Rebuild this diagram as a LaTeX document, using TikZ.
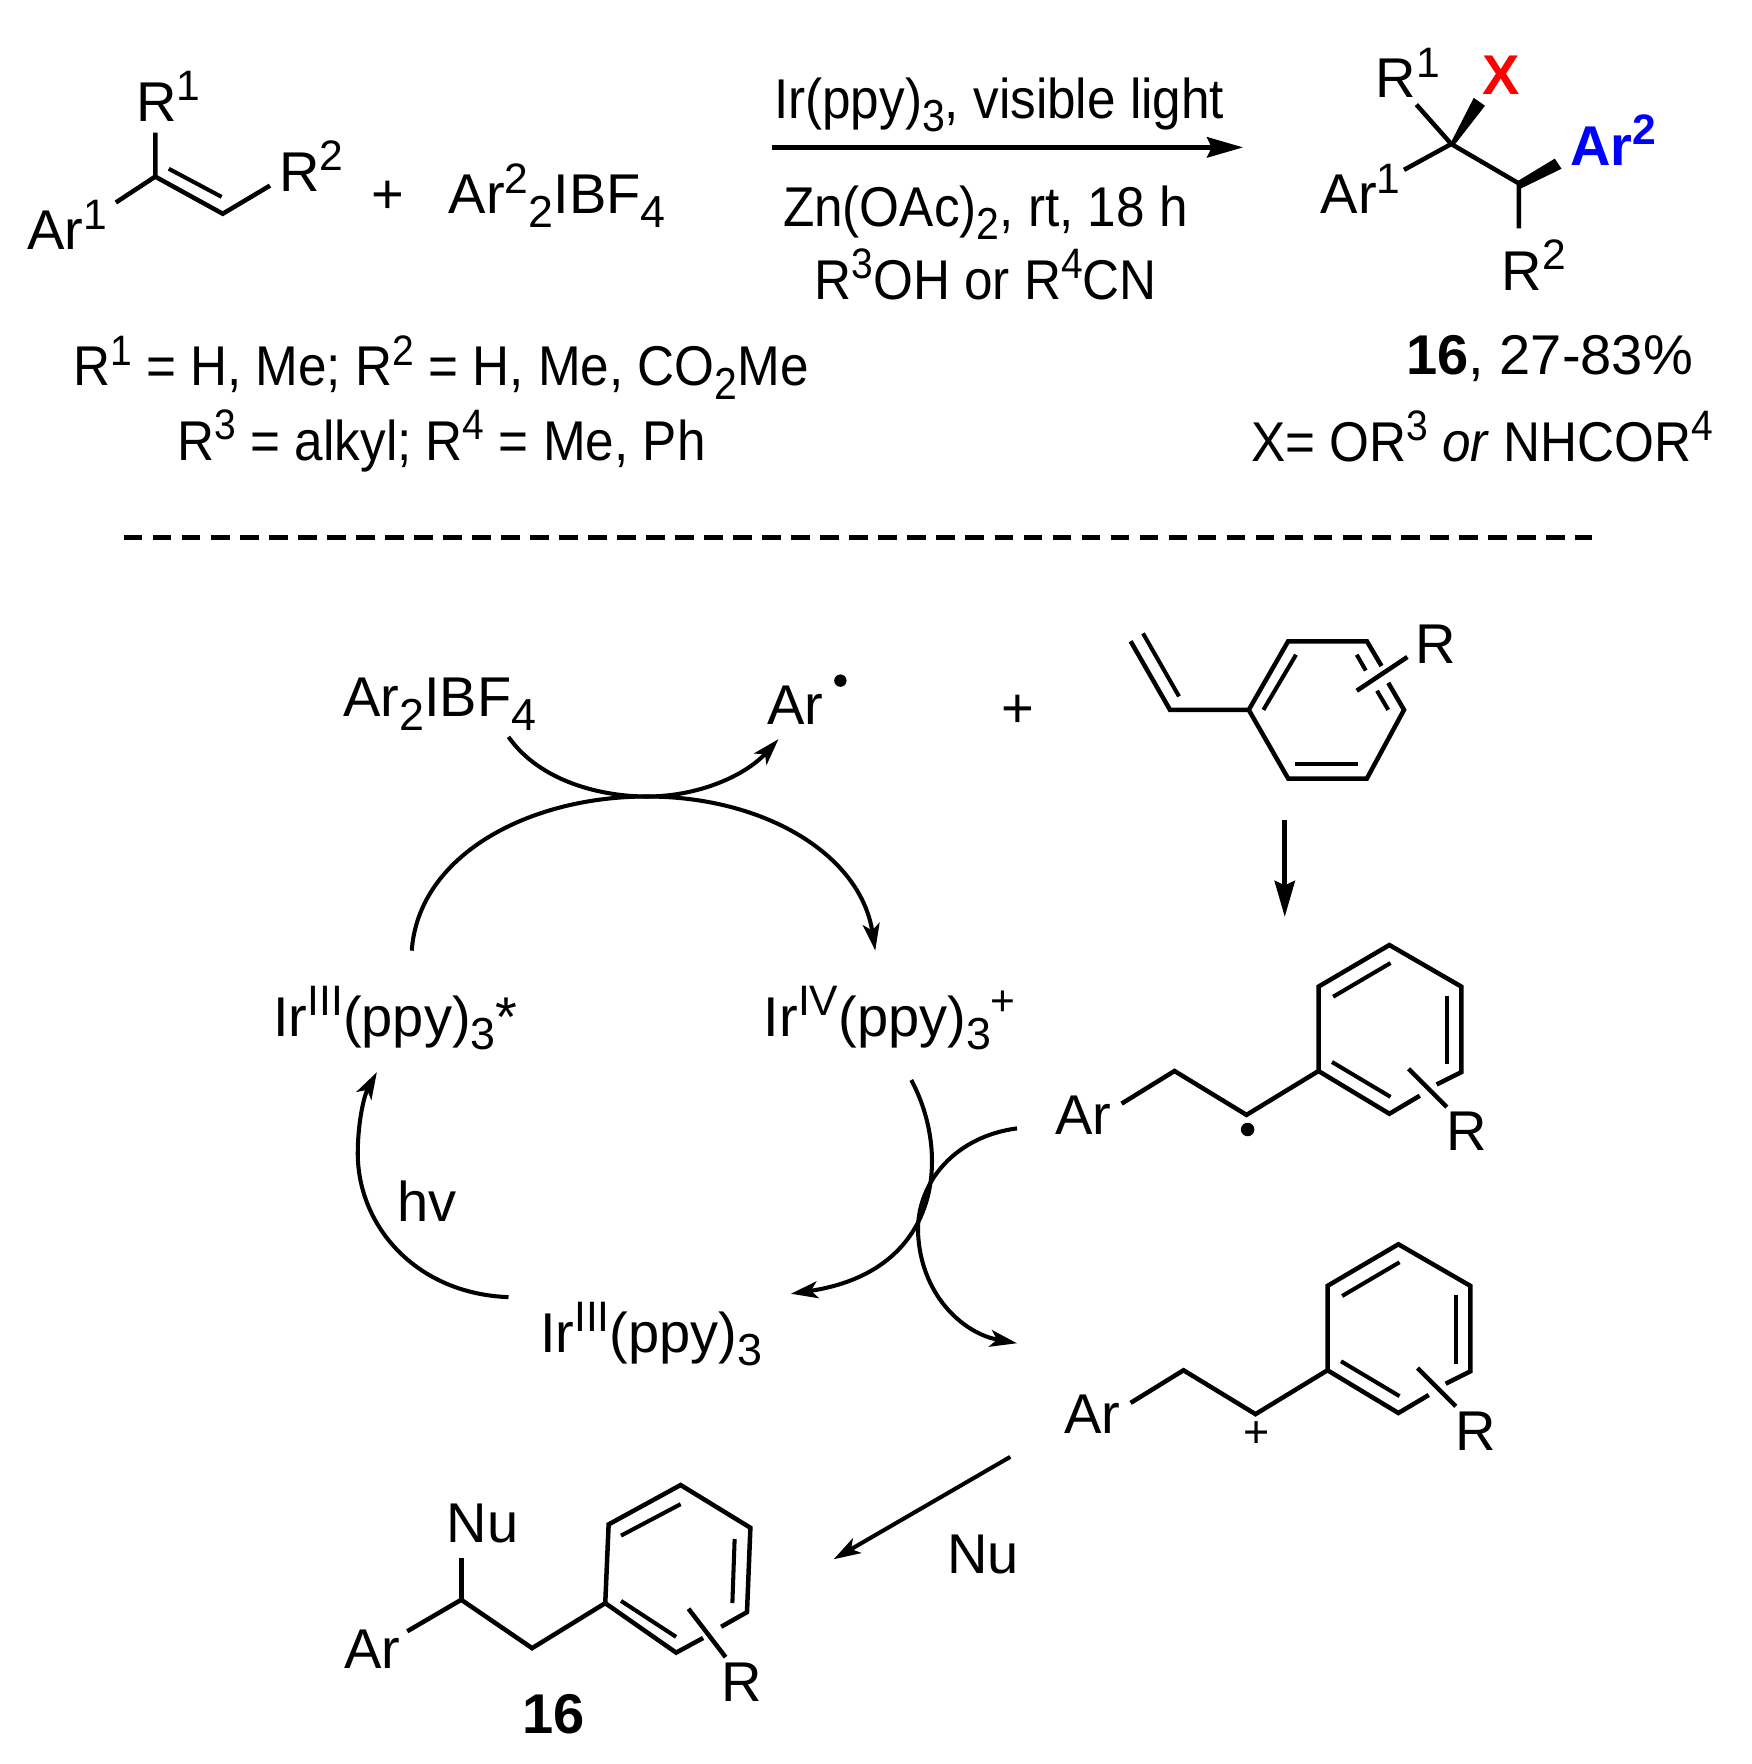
\documentclass[tikz,border=0pt]{standalone}
\usepackage{fontspec}
\setmainfont{Liberation Sans}
\usetikzlibrary{arrows.meta}
\newcommand\ssup[1]{\raisebox{.37em}{\fontsize{38}{38}\selectfont #1}}
\newcommand\ssub[1]{\raisebox{-.24em}{\fontsize{40}{40}\selectfont #1}}
\newcommand\nar[1]{\scalebox{.915}[1]{#1}}
\tikzset{
 lab/.style={inner sep=0pt,outer sep=0pt,anchor=base west,font=\fontsize{50}{60}\selectfont},
 bond/.style={line width=4bp,line cap=butt,line join=miter},
 dbl/.style={line width=3.6bp},
 rxn/.style={line width=4.2bp,-{Stealth[length=32bp,width=18bp,inset=4bp]}},
 curve/.style={line width=3.6bp,-{Stealth[length=24bp,width=15bp,inset=6bp]}},
 seq/.style={line width=4.2bp,dash pattern=on 16.6bp off 9.2bp},
}
\begin{document}
\begin{tikzpicture}[x=1bp,y=-1bp]
\useasboundingbox (0,0) rectangle (1557,1568);
% top left substrate
\node[lab] (r1a) at (121,108) {R\ssup{1}};
\node[lab] (ar1a) at (24,222) {Ar\ssup{1}};
\node[lab] (r2a) at (248,170) {R\ssup{2}};
\node[lab] (plusa) at (330,190) {+};
\node[lab] (ar2i) at (399,190) {Ar\ssup{2}\ssub{2}IBF\ssub{4}};
\draw[bond] (138,118)--(138,157)--(198,190)--(240,165);
\draw[bond] (103,180)--(138,157);
\draw[dbl] (150,150)--(197,175);
% reaction arrow
\coordinate (rs) at (686,131); \coordinate (re) at (1105,131);
\draw[rxn] (rs)--(re);
\node[lab] (c1) at (688,105) {\nar{Ir(ppy)\ssub{3}, visible light}};
\node[lab] (c2) at (696,201) {\nar{Zn(OAc)\ssub{2}, rt, 18 h}};
\node[lab] (c3) at (724,266) {\nar{R\ssup{3}OH or R\ssup{4}CN}};
\node[lab] (d1) at (65,343) {\nar{R\ssup{1} = H, Me; R\ssup{2} = H, Me, CO\ssub{2}Me}};
\node[lab] (d2) at (158,409) {\nar{R\ssup{3} = alkyl; R\ssup{4} = Me, Ph}};
% product
\node[lab] (pr1) at (1223,87) {R\ssup{1}};
\node[lab,text=red,font=\fontsize{50}{60}\selectfont\bfseries] (px) at (1318,84) {X};
\node[lab] (par1) at (1174,190) {Ar\ssup{1}};
\node[lab,text=blue,font=\fontsize{50}{60}\selectfont\bfseries] (par2) at (1396,147) {Ar\ssup{2}};
\node[lab] (pr2) at (1335,258) {R\ssup{2}};
\draw[bond] (1259,93)--(1290,128)--(1350,163)--(1350,203);
\draw[bond] (1248,151)--(1290,128);
\fill (1289,128)--(1310,87)--(1320,94)--(1292,130)--cycle;
\fill (1349,161)--(1382,141)--(1388,150)--(1351,168)--cycle;
\node[lab] (p16) at (1250,333) {\textbf{16}, 27-83\%};
\node[lab] (px2) at (1112,410) {\nar{X= OR\ssup{3} \textit{or} NHCOR\ssup{4}}};
% separator
\coordinate (sl) at (110,478); \coordinate (sr) at (1415,478);
\draw[seq] (sl)--(sr);
% mechanism labels
\node[lab] (ari) at (305,637) {Ar\ssub{2}IBF\ssub{4}};
\node[lab] (arr) at (682,644) {Ar};
\fill (747,605) circle (5.5bp);
\node[lab] (plusb) at (890,647) {+};
\node[lab] (ir3s) at (243,921) {Ir\ssup{III}(ppy)\ssub{3}*};
\node[lab] (ir4) at (679,921) {Ir\ssup{IV}(ppy)\ssub{3}\ssup{+}};
\node[lab] (ir3) at (480,1202) {Ir\ssup{III}(ppy)\ssub{3}};
\node[lab] (hv) at (353,1086) {hv};
\node[lab] (nu1) at (842,1399) {Nu};
% styrene
\draw[bond] (1005,570)--(1040,631)--(1110,631)--(1145,570)--(1215,570)--(1228,592);
\draw[bond] (1234,607)--(1248,631)--(1215,692)--(1145,692)--(1110,631);
\draw[dbl] (1016,563)--(1048,619);
\draw[dbl] (1152,582)--(1123,631);
\draw[dbl] (1206,582)--(1214,596);
\draw[dbl] (1224,614)--(1234,631);
\draw[dbl] (1151,679)--(1207,679);
\draw[bond] (1206,614)--(1251,584);
\node[lab] (rs1) at (1258,590) {R};
\coordinate (da) at (1142,729); \coordinate (db) at (1142,815);
\draw[rxn] (da)--(db);
% radical
\foreach \dx/\dy/\nm in {0/0/a,8/266/b}{
\begin{scope}[shift={(\dx,\dy)}]
\draw[bond] (997,981)--(1044,952)--(1108,991)--(1172,952)--(1172,877)--(1235,840)--(1299,877)--(1299,953)--(1277,964);
\draw[bond] (1262,974)--(1235,990)--(1172,952);
\draw[dbl] (1185,886)--(1236,856);
\draw[dbl] (1286,885)--(1286,946);
\draw[dbl] (1184,944)--(1236,975);
\draw[bond] (1252,950)--(1286,984);
\node[lab] (ar\nm) at (938,1008) {Ar};
\node[lab] (rr\nm) at (1286,1023) {R};
\end{scope}}
\fill (1109,1004) circle (6bp);
\node[lab,font=\fontsize{40}{40}\selectfont] (pl) at (1105,1287) {+};
% Nu product
\draw[bond] (362,1450)--(410,1422)--(473,1465)--(538,1425)--(541,1355)--(605,1320)--(667,1358)--(664,1433)--(641,1446);
\draw[bond] (625,1456)--(601,1469)--(538,1425);
\draw[bond] (410,1422)--(410,1385);
\draw[dbl] (552,1365)--(605,1337);
\draw[dbl] (653,1368)--(651,1425);
\draw[dbl] (552,1423)--(601,1455);
\draw[bond] (612,1430)--(645,1473);
\node[lab] (arn) at (306,1483) {Ar};
\node[lab] (nu2) at (397,1371) {Nu};
\node[lab] (rn) at (641,1512) {R};
\node[lab,font=\fontsize{50}{60}\selectfont\bfseries] (n16) at (464,1541) {16};
% curved arrows
\coordinate (c1s) at (452,655); \coordinate (cm) at (575,708); \coordinate (c1e) at (692,657);
\coordinate (c2s) at (366,845); \coordinate (c2e) at (778,845);
\coordinate (c3s) at (810,960); \coordinate (c3e) at (703,1150);
\coordinate (c4s) at (904,1003); \coordinate (c4m) at (816,1095); \coordinate (c4e) at (904,1194);
\coordinate (c5s) at (452,1153); \coordinate (c5m) at (318,1025); \coordinate (c5e) at (335,953);
\coordinate (ns) at (898,1295); \coordinate (ne) at (741,1386);
\draw[curve] (c1s) .. controls (480,695) and (535,708) .. (cm) .. controls (620,708) and (662,690) .. (c1e);
\draw[curve] (c2s) .. controls (372,760) and (470,708) .. (cm) .. controls (680,708) and (765,760) .. (c2e);
\draw[curve] (c3s) .. controls (845,1025) and (838,1130) .. (c3e);
\draw[curve] (c4s) .. controls (850,1010) and (815,1050) .. (c4m) .. controls (818,1150) and (855,1185) .. (c4e);
\draw[curve] (c5s) .. controls (370,1150) and (318,1090) .. (c5m) .. controls (318,1000) and (323,975) .. (c5e);
\draw[curve] (ns)--(ne);
\end{tikzpicture}
\end{document}
